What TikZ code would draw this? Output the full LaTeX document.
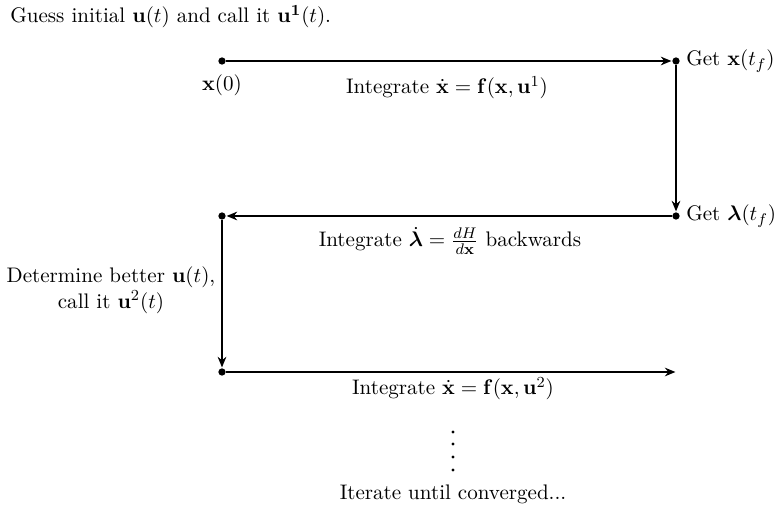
\documentclass[11pt,tikz,border=0pt]{standalone}
\usepackage{amsmath,amssymb}
\usetikzlibrary{arrows.meta}
\begin{document}
\begin{tikzpicture}[x=0.52pt,y=-0.52pt,
  pt/.style={circle,fill=black,inner sep=0pt,minimum size=3.8pt},
  flow/.style={-{Stealth[length=5.5pt,width=4.5pt]},line width=0.85pt,shorten >=0.3pt},
  lbl/.style={inner sep=1pt}]
\useasboundingbox (0,0) rectangle (774,509);

% heading
\node[lbl,anchor=base west] (guess) at (8,23) {Guess initial $\mathbf{u}(t)$ and call it $\mathbf{u^1}(t)$.};

% corner points of the sweep
\node[pt] (x0) at (222,61) {};
\node[pt] (xf) at (676,61) {};
\node[pt] (lf) at (676,216) {};
\node[pt] (l0) at (222,216) {};
\node[pt] (u2) at (222,372) {};
\coordinate (end) at (676,372);

% forward, backward, forward sweeps
\draw[flow] (x0) -- (xf);
\draw[flow] (xf) -- (lf);
\draw[flow] (lf) -- (l0);
\draw[flow] (l0) -- (u2);
\draw[flow] (u2) -- (end);

% labels
\node[lbl,anchor=base] (lx0) at (222,91) {$\mathbf{x}(0)$};
\node[lbl,anchor=base west] (lxf) at (684,66) {Get $\mathbf{x}(t_f)$};
\node[lbl,anchor=base west] (llf) at (684,221) {Get $\boldsymbol{\lambda}(t_f)$};
\node[lbl,anchor=base] (int1) at (447,94) {Integrate $\dot{\mathbf{x}}=\mathbf{f}(\mathbf{x},\mathbf{u}^1)$};
\node[lbl,anchor=base] (int2) at (450,247) {Integrate $\dot{\boldsymbol{\lambda}}=\frac{dH}{d\mathbf{x}}$ backwards};
\node[lbl,anchor=base] (int3) at (453,395) {Integrate $\dot{\mathbf{x}}=\mathbf{f}(\mathbf{x},\mathbf{u}^2)$};
\node[lbl,align=center] (det) at (111,290) {Determine better $\mathbf{u}(t)$,\\ call it $\mathbf{u}^2(t)$};

% continuation
\foreach \yy in {432,444,457,470} \fill (453,\yy) circle (0.8pt);
\node[lbl,anchor=base] (iter) at (453,499) {Iterate until converged...};
\end{tikzpicture}
\end{document}
